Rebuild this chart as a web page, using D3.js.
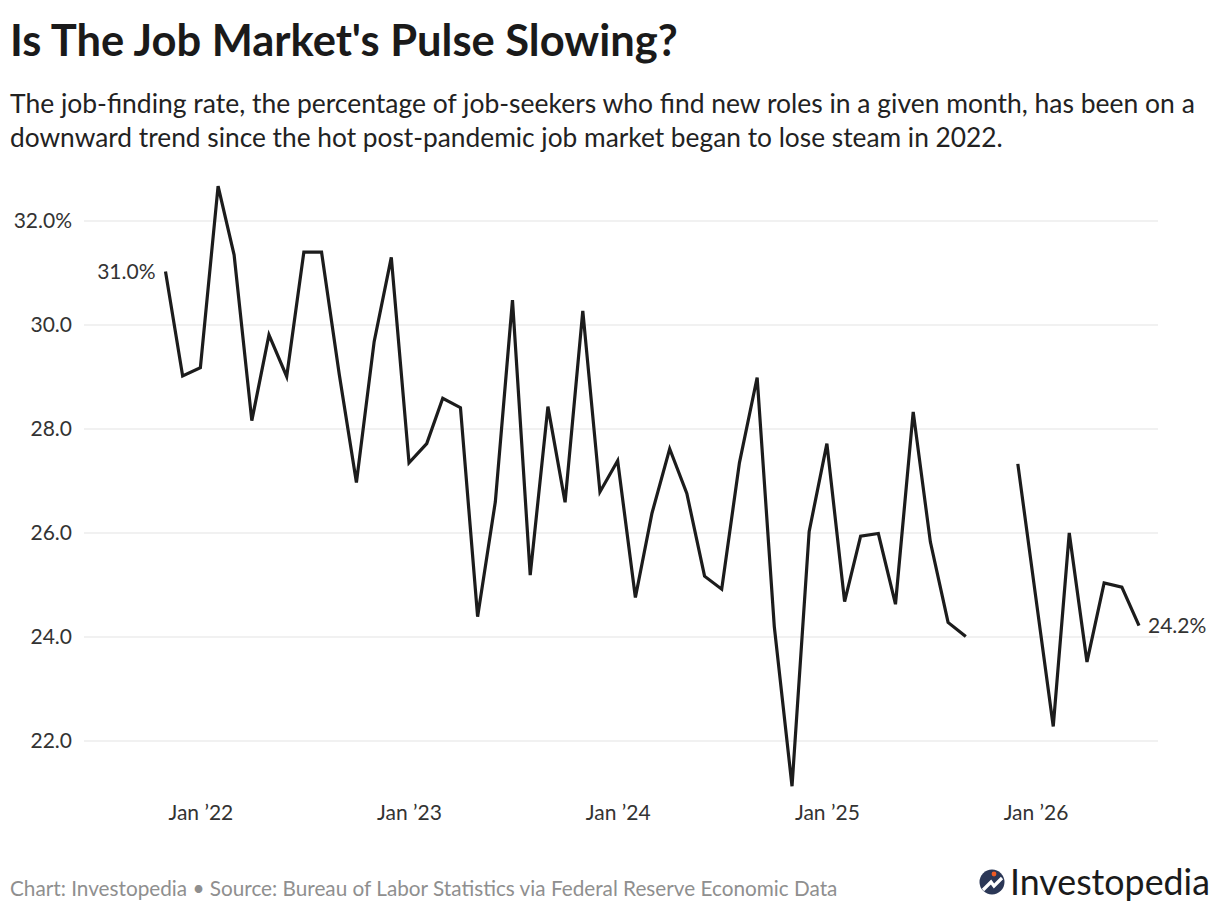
<!DOCTYPE html>
<html>
<head>
<meta charset="utf-8">
<script src="https://cdn.jsdelivr.net/npm/d3@7"></script>
<style>
  body { margin: 0; background: #fff; }
  svg { display: block; font-family: Lato, "Noto Sans", sans-serif; }
</style>
</head>
<body>
<div id="my_dataviz"></div>
<script>
// DATA ===========================================================================================
const startMonth = '2021-11-01'
// monthly job-finding rate (%), null where no data was published (Oct/Nov 2025)
const rates = [
  31.03, 29.02, 29.18, 32.67, 31.35, 28.16, 29.81, 29.01, 31.40, 31.40, 29.05, 26.97,
  29.68, 31.30, 27.35, 27.72, 28.59, 28.41, 24.39, 26.60, 30.48, 25.19, 28.43, 26.59,
  30.27, 26.79, 27.39, 24.76, 26.38, 27.62, 26.76, 25.17, 24.92, 27.35, 28.99, 24.20,
  21.13, 26.03, 27.72, 24.68, 25.94, 25.99, 24.63, 28.33, 25.83, 24.28, 24.01, null,
  null, 27.33, 24.80, 22.28, 26.00, 23.52, 25.04, 24.96, 24.22
]
const xTickDates = ['2022-01-01', '2023-01-01', '2024-01-01', '2025-01-01', '2026-01-01']
const xTickLabels = ['Jan ’22', 'Jan ’23', 'Jan ’24', 'Jan ’25', 'Jan ’26']
const yTicks = [22, 24, 26, 28, 30, 32]
const yTickLabels = ['22.0', '24.0', '26.0', '28.0', '30.0', '32.0%']

const title = "Is The Job Market's Pulse Slowing?"
const subtitle = [
  'The job-finding rate, the percentage of job-seekers who find new roles in a given month, has been on a',
  'downward trend since the hot post-pandemic job market began to lose steam in 2022.'
]
const footer = 'Chart: Investopedia • Source: Bureau of Labor Statistics via Federal Reserve Economic Data'

const start = new Date(startMonth)
const data = rates.map((v, i) => ({ date: d3.utcMonth.offset(start, i), value: v }))

// SET UP =========================================================================================
const width = 1220
const height = 914
const labelSize = 21

const svg = d3.select('#my_dataviz')
  .append('svg')
  .attr('width', width)
  .attr('height', height)

// stretch a text to the width it has in the original
function fit(sel, w) {
  const len = sel.node().getComputedTextLength()
  sel.attr('font-size', +sel.attr('font-size') * w / len)
}

// HEADER =========================================================================================
svg.append('text')
  .attr('x', 10).attr('y', 56)
  .attr('font-size', 36).attr('font-weight', 700)
  .attr('fill', '#1a1a1a')
  .text(title)
  .call(fit, 668)

const subW = [1185, 993]
subtitle.forEach((line, i) => {
  svg.append('text')
    .attr('x', 10).attr('y', 113 + i * 34)
    .attr('font-size', 23)
    .attr('fill', '#222')
    .text(line)
    .call(fit, subW[i])
})

// SCALES AND AXES ================================================================================
const x = d3.scaleUtc()
  .domain([start, d3.utcMonth.offset(start, 56)])
  .range([165.5, 1139])

const y = d3.scaleLinear()
  .domain([22, 32])
  .range([741, 221])

// grid
svg.append('g')
  .selectAll('line')
  .data(yTicks)
  .join('line')
  .attr('x1', 84).attr('x2', 1158)
  .attr('y1', d => y(d)).attr('y2', d => y(d))
  .attr('stroke', '#e3e3e3')
  .attr('stroke-width', 1)

const yAxis = svg.append('g')
  .attr('transform', 'translate(84, 0)')
  .call(d3.axisLeft(y)
    .tickValues(yTicks)
    .tickSize(0)
    .tickPadding(12)
    .tickFormat((d, i) => yTickLabels[i]))
yAxis.select('.domain').remove()
yAxis.selectAll('text')
  .attr('font-size', labelSize)
  .attr('font-family', 'Lato, sans-serif')
  .attr('fill', '#333')

const xAxis = svg.append('g')
  .attr('transform', 'translate(0, 800)')
  .call(d3.axisBottom(x)
    .tickValues(xTickDates.map(d => new Date(d)))
    .tickSize(0)
    .tickPadding(5)
    .tickFormat((d, i) => xTickLabels[i]))
xAxis.select('.domain').remove()
xAxis.selectAll('text')
  .attr('font-size', labelSize)
  .attr('font-family', 'Lato, sans-serif')
  .attr('fill', '#333')

// MARKS ==========================================================================================
svg.append('path')
  .datum(data)
  .attr('fill', 'none')
  .attr('stroke', '#1c1c1c')
  .attr('stroke-width', 3.2)
  .attr('d', d3.line()
    .defined(d => d.value !== null)
    .x(d => x(d.date))
    .y(d => y(d.value))
  )

// first and last value labels
const first = data[0]
const last = data[data.length - 1]
svg.append('text')
  .attr('x', x(first.date) - 10).attr('y', y(first.value))
  .attr('dy', '0.35em')
  .attr('text-anchor', 'end')
  .attr('font-size', labelSize).attr('fill', '#333')
  .text(d3.format('.1f')(first.value) + '%')
svg.append('text')
  .attr('x', x(last.date) + 9).attr('y', y(last.value))
  .attr('dy', '0.35em')
  .attr('font-size', labelSize).attr('fill', '#333')
  .text(d3.format('.1f')(last.value) + '%')

// FOOTER =========================================================================================
svg.append('text')
  .attr('x', 10).attr('y', 896)
  .attr('font-size', 18)
  .attr('fill', '#8f8f8f')
  .text(footer)
  .call(fit, 828)

// logo
const logo = svg.append('g').attr('transform', 'translate(992, 882)')
logo.append('circle').attr('r', 12.5).attr('fill', '#2b3756')
logo.append('path')
  .attr('d', 'M-9,8 L-1,0 L2,4 L10,-4')
  .attr('fill', 'none')
  .attr('stroke', '#fff')
  .attr('stroke-width', 3.2)
logo.append('circle').attr('cx', 2).attr('cy', -8).attr('r', 2.4).attr('fill', '#ef5a24')
svg.append('text')
  .attr('x', 1010).attr('y', 895)
  .attr('font-size', 34)
  .attr('fill', '#1b1b1b')
  .text('Investopedia')
  .call(fit, 200)
</script>
</body>
</html>
